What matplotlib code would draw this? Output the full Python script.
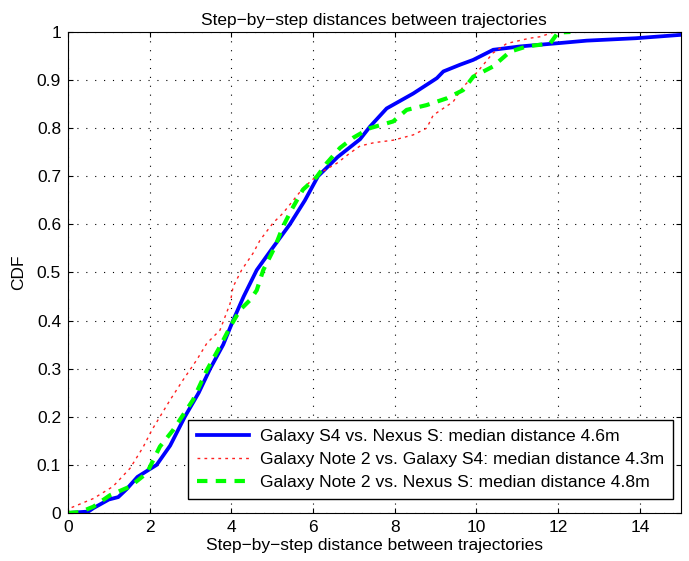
import matplotlib.pyplot as plt

plt.rcParams['font.family'] = ['Liberation Sans', 'DejaVu Sans']

# Galaxy S4 vs. Nexus S
s4_nexus_x = [0, 0.5, 0.62, 1.0, 1.23, 1.44, 1.7, 2.17, 2.5, 2.86, 3.2, 3.48, 3.8,
              4.04, 4.3, 4.62, 5.0, 5.43, 5.8, 6.12, 6.6, 7.15, 7.39, 7.8, 8.45,
              9.03, 9.19, 9.6, 9.92, 10.41, 11.07, 12.04, 12.7, 13.9, 15.0]
s4_nexus_y = [0, 0.003, 0.01, 0.028, 0.033, 0.05, 0.075, 0.1, 0.14, 0.2, 0.25,
              0.3, 0.35, 0.4, 0.45, 0.505, 0.55, 0.6, 0.65, 0.7, 0.74, 0.777, 0.803,
              0.841, 0.872, 0.904, 0.918, 0.932, 0.942, 0.963, 0.97, 0.977, 0.982,
              0.987, 0.994]

# Galaxy Note 2 vs. Galaxy S4
note2_s4_x = [0, 0.05, 0.62, 1.1, 1.52, 1.84, 2.05, 2.25, 2.5, 2.82, 3.15, 3.4,
              3.72, 3.97, 4.04, 4.25, 4.53, 4.7, 5.02, 5.26, 5.75, 6.17, 6.58,
              6.9, 7.15, 7.5, 7.96, 8.45, 8.78, 8.94, 9.43, 9.67, 9.92, 10.16,
              10.4, 10.74, 11.3, 11.55, 11.87, 12.1]
note2_s4_y = [0, 0.01, 0.03, 0.055, 0.093, 0.137, 0.172, 0.2, 0.235, 0.277, 0.318,
              0.353, 0.38, 0.436, 0.47, 0.505, 0.54, 0.567, 0.603, 0.623, 0.675,
              0.707, 0.727, 0.748, 0.763, 0.77, 0.775, 0.786, 0.8, 0.827, 0.855,
              0.886, 0.907, 0.931, 0.956, 0.976, 0.987, 0.99, 0.999, 1.0]

# Galaxy Note 2 vs. Nexus S
note2_nexus_x = [0, 0.3, 0.62, 1.03, 1.52, 1.93, 2.25, 2.57, 3.06, 3.4, 3.72,
                 3.97, 4.21, 4.46, 4.62, 4.78, 5.07, 5.26, 5.47, 5.75, 6.09,
                 6.33, 6.66, 6.98, 7.39, 7.96, 8.29, 8.78, 9.27, 9.67, 9.92,
                 10.4, 10.82, 11.23, 11.8, 12.0, 12.3]
note2_nexus_y = [0, 0.002, 0.013, 0.037, 0.055, 0.083, 0.138, 0.172, 0.235,
                 0.297, 0.346, 0.387, 0.422, 0.443, 0.463, 0.505, 0.554, 0.595,
                 0.63, 0.672, 0.699, 0.727, 0.759, 0.78, 0.8, 0.814, 0.838,
                 0.848, 0.862, 0.879, 0.907, 0.928, 0.959, 0.97, 0.976, 0.999, 1.0]

labels = ['Galaxy S4 vs. Nexus S: median distance 4.6m',
          'Galaxy Note 2 vs. Galaxy S4: median distance 4.3m',
          'Galaxy Note 2 vs. Nexus S: median distance 4.8m']

fig = plt.figure(figsize=(6.89, 5.61), dpi=100)
ax = fig.add_axes([0.0987, 0.0856, 0.8893, 0.8574])

ax.plot(s4_nexus_x, s4_nexus_y, '-', color='#0000ff', lw=2.7, label=labels[0])
ax.plot(note2_s4_x, note2_s4_y, color='#ff2020', lw=1.0, dashes=(2, 3),
        label=labels[1])
ax.plot(note2_nexus_x, note2_nexus_y, color='#00ff00', lw=3.0,
        dashes=(2.5, 2), label=labels[2])

ax.set_xlim(0, 15)
ax.set_ylim(0, 1)
ax.set_xticks(range(0, 15, 2))
ax.set_yticks([i / 10 for i in range(11)])
ax.set_yticklabels(['0', '0.1', '0.2', '0.3', '0.4', '0.5', '0.6', '0.7',
                    '0.8', '0.9', '1'])
ax.grid(True, linestyle=(0, (1, 7)), color='black', lw=0.8)
ax.tick_params(direction='in', labelsize=12.5, top=True, right=True, pad=5)

ax.set_title('Step\u2212by\u2212step distances between trajectories', fontsize=12.5, pad=5)
ax.set_xlabel('Step\u2212by\u2212step distance between trajectories', fontsize=12.5, labelpad=2)
ax.set_ylabel('CDF', fontsize=12.5, labelpad=8)

leg = ax.legend(loc='lower right', bbox_to_anchor=(0.987, 0.029),
                fontsize=12.6, fancybox=False, framealpha=1,
                edgecolor='black', handlelength=3.0, borderaxespad=0,
                labelspacing=0.45, borderpad=0.5, handletextpad=0.6)
leg.get_frame().set_linewidth(1.0)

fig.savefig('out.png', dpi=100)
